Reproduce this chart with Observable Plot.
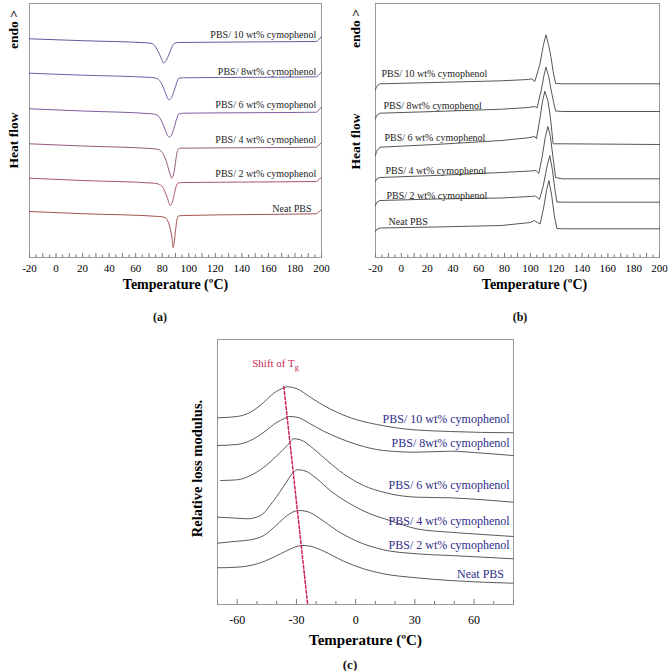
<!DOCTYPE html>
<html><head><meta charset="utf-8">
<script src="https://cdn.jsdelivr.net/npm/d3@7"></script>
<script src="https://cdn.jsdelivr.net/npm/@observablehq/plot@0.6"></script>
<style>
body{margin:0;background:#fff}
#wrap{position:relative;width:669px;height:671px;background:#fff;font-family:"Liberation Serif",serif;overflow:hidden}
.panel{position:absolute}
.cap{position:absolute;font-weight:bold;transform:translate(-50%,-50%);white-space:nowrap;color:#111}
</style></head><body><div id="wrap">
<div id="pa" class="panel" style="left:0;top:0"></div>
<div id="pb" class="panel" style="left:335px;top:0"></div>
<div id="pc" class="panel" style="left:150px;top:330px"></div>
<div class="cap" style="left:160px;top:317px;font-size:12px">(a)</div>
<div class="cap" style="left:520px;top:317px;font-size:12px">(b)</div>
<div class="cap" style="left:350px;top:665px;font-size:13px">(c)</div>
</div>
<script>
// ---------- shared ----------
const names = ["PBS/ 10 wt% cymophenol","PBS/ 8wt% cymophenol","PBS/ 6 wt% cymophenol","PBS/ 4 wt% cymophenol","PBS/ 2 wt% cymophenol","Neat PBS"];

// ---------- (a) DSC heating, [T °C, heat flow a.u.] ----------
const a10 = [[-20,218.7],[20,216.8],[70,214.5],[73,213.5],[75,210.5],[77,206],[79,200],[81,194.7],[83,197],[85,203],[87,209.5],[89,214],[92,215],[120,215.3],[160,215.7],[196,216],[198,218],[200,221]];
const a8 = [[-20,184.3],[20,182.3],[72,180],[76,179],[78,177],[80,172.5],[82,166],[84,159.5],[85,157.7],[87,160],[89,167],[91,175],[92.5,179.3],[96,179.7],[150,180.2],[196,180.7],[198,182.5],[200,185.3]];
const a6 = [[-20,148.7],[20,146.5],[72,143.7],[76,142.5],[78,140],[80,135],[82,128.5],[84,122],[85.5,120.3],[87,122.5],[89,130],[91,139],[92.5,143.5],[96,144.3],[150,144.8],[196,145.3],[198,147.5],[200,150.3]];
const a4 = [[-20,113.7],[20,111.5],[74,108.7],[78,107.5],[80,105],[82,100],[84,92],[86,83],[87,79.3],[88,81],[89.5,90],[90.5,100],[91.5,107],[93,109.3],[150,109.8],[196,110.3],[198,112.5],[200,115]];
const a2 = [[-20,79.3],[20,77],[74,74.3],[78,73],[80,71],[82,66],[84,59],[86,52],[87.5,55],[89,63],[90.5,71],[92,74.5],[96,75],[150,75.5],[196,76],[198,78],[200,80.3]];
const aNeat = [[-20,46],[20,43.8],[78,41],[82,40],[84,37],[86,29],[87.5,18],[88.2,10],[89,15],[90,27],[91,37],[92,41.5],[96,42],[150,43],[196,43.7],[198,45.5],[200,48]];
const labelXA = [196,196,196,196,196,192.5];
const labelYA = [223,186,153,118,84,49];
const colorsA = ["#5d5d9c","#6a5fa3","#7d5c9c","#94587e","#a8556b","#a0524f"];
const tickLabelsAB = [-20,0,20,40,60,80,100,120,140,160,180,200];
const minorTicksAB = d3.range(-20, 201, 5);

// ---------- (b) DSC cooling ----------
const b10 = [[-20,167.7],[-19.2,171],[-16.6,173.7],[26,175],[77.6,176.7],[98.3,178],[101,178.7],[103.4,176],[107.3,193],[110,212],[112,222.7],[114,213],[116,200],[117.6,186],[119.5,174],[125,173.7],[200,173.7]];
const b8 = [[-20,138.7],[-19.2,142],[-16.6,144.3],[26,146],[77.6,148.3],[98.3,150],[103.4,151],[105.2,149.7],[108.5,168],[110.5,182],[112,190.3],[114,182],[116,168],[118,155],[119.5,146.5],[125,146],[200,146]];
const b6 = [[-20,102],[-19.2,106.3],[-16.6,110.3],[26,113],[77.6,117],[98.3,119.7],[103.4,121],[104.7,118.7],[107.5,140],[109.5,157],[111.2,166.3],[113.5,157],[115.5,140],[117.6,113.7],[125,113.7],[200,113]];
const b4 = [[-20,76],[-19.2,78.5],[-16.6,80],[26,82],[77.6,85],[100,86.5],[104.5,87],[106.5,84],[109,100],[111.5,120],[113.5,131],[115.5,121],[117.5,100],[119.5,80],[125,78.7],[200,78.7]];
const b2 = [[-20,52],[-19.2,55],[-16.6,57],[26,58.5],[77.6,59.5],[100,61],[104,61.5],[107,58],[110,72],[113,92],[115,102],[117,88],[119,68],[120.5,55.5],[125,55.3],[200,55.3]];
const bNeat = [[-20,26],[-19.2,28],[-16.6,29.5],[26,30.5],[77.6,32],[100,35],[103,37],[105.5,35],[107.5,33.5],[110,48],[112.5,67],[114.3,77],[116.5,62],[118.5,42],[120.5,29],[125,28.7],[200,28.7]];
const labelXB = [-15.4,-13.8,-13,-12.3,-11.5,-9.9];
const labelYB = [183.7,152,119.3,87,62,36];

// ---------- (c) DMA loss modulus ----------
const c10 = [[-70,186.7],[-60,188],[-53.3,192.3],[-46.5,202.3],[-41.5,211.3],[-36.4,216.7],[-34.7,217.7],[-29.7,215.7],[-23,207.3],[-16.2,199],[-9.5,192.3],[0.6,184.7],[10.7,180],[24.2,175.7],[47.7,173],[79.7,171.7]];
const c8 = [[-70,159],[-60,160],[-53.3,164],[-46.5,172.3],[-39.8,182.3],[-36.4,185.7],[-33.9,188],[-29.7,187.3],[-23,180.7],[-16.2,173.3],[-9.5,167.3],[0.6,160],[14.1,154],[30.9,152.3],[47.7,153.3],[64.6,151.3],[79.7,149]];
const c6 = [[-68.4,124],[-60,124.7],[-53.3,129],[-46.5,137.3],[-39.8,149],[-34.7,159],[-31.4,165.7],[-28,164.7],[-21.3,155.7],[-14.5,144],[-6.1,130.7],[4,119],[14.1,112.3],[30.9,107.3],[47.7,106.7],[64.6,104.7],[79.7,102.3]];
const c4 = [[-70,87.3],[-63.4,86.7],[-54.9,85.7],[-48.2,89],[-41.5,104],[-35.6,120.7],[-32.2,130.7],[-29.7,134.7],[-26.3,134],[-19.6,125.7],[-12.9,114],[-2.8,100.7],[7.3,90.7],[17.4,84],[30.9,75.7],[47.7,72.3],[64.6,70],[79.7,68]];
const c2 = [[-70,61.3],[-60,63.3],[-53.3,64.7],[-46.5,69],[-39.8,80],[-34.7,89],[-28.9,94],[-24.6,93],[-17.9,85.7],[-9.5,74],[0.6,63.3],[14.1,54.7],[30.9,50.7],[47.7,49],[64.6,47.3],[79.7,45.7]];
const cNeat = [[-70,36.7],[-60,37.3],[-49.9,40.7],[-41.5,47.3],[-34.7,54],[-27.2,59],[-23,58.3],[-16.2,53.3],[-6.1,43.3],[4,35.7],[14.1,30.7],[30.9,26.7],[47.7,24],[64.6,22.3],[79.7,21.3]];
const tgShift = [[-36.4,218],[-24.3,0]];
const tgLabel = {t: -52.4, v: 241, text: "Shift of T"};
const labelXC = [78,78,78,78,78,75.2];
const labelYC = [185.7,161.3,119.7,83.3,59.7,30.7];
const tickLabelsC = [-60,-30,0,30,60];
const minorTicksC = d3.range(-70, 81, 10);

// ---------- helpers ----------
function rows(series){ return series.flatMap((pts,i)=>pts.map(([t,v])=>({t, v, name: names[i]}))); }
function labels(xs, ys){ return names.map((n,i)=>({name:n, t: xs[i], v: ys[i]})); }
const serif = "Liberation Serif, Times New Roman, serif";
const baseStyle = {fontFamily: serif, background: "none", overflow: "visible"};
function yTitle(txt, v, dx, size){
  return Plot.text([txt], {text: d => d, frameAnchor: "left", y: v, dx, rotate: -90, textAnchor: "middle", lineAnchor: "middle", fontWeight: "bold", fontSize: size});
}

// ---------- (a) ----------
const plotA = Plot.plot({
  width: 330, height: 300, marginLeft: 29, marginRight: 9, marginTop: 3, marginBottom: 43,
  x: {domain: [-20, 200], axis: null},
  y: {domain: [0, 254], axis: null},
  color: {domain: names, range: colorsA},
  style: baseStyle,
  marks: [
    Plot.frame({stroke: "#9a9a9a"}),
    Plot.ruleX(minorTicksAB, {x: d => d, y1: 0, y2: d => d % 10 === 0 ? 4 : 2.5, stroke: "#777"}),
    Plot.axisX({ticks: tickLabelsAB, tickSize: 0, tickPadding: 7, fontSize: 11, tickFormat: d => String(d), label: null}),
    Plot.line(rows([a10,a8,a6,a4,a2,aNeat]), {x: "t", y: "v", z: "name", stroke: "name", strokeWidth: 1, curve: "monotone-x"}),
    Plot.text(labels(labelXA, labelYA), {x: "t", y: "v", text: "name", textAnchor: "end", fontSize: 10, fill: "#222"}),
    Plot.text(["Temperature (ºC)"], {text: d => d, frameAnchor: "bottom", dy: 27, fontWeight: "bold", fontSize: 14, lineAnchor: "middle"}),
    yTitle("endo >", 228, -16, 13.5),
    yTitle("Heat flow", 117, -16, 13.5)
  ]
});
document.getElementById("pa").appendChild(plotA);

// ---------- (b) ----------
const plotB = Plot.plot({
  width: 334, height: 300, marginLeft: 40, marginRight: 10, marginTop: 3, marginBottom: 43,
  x: {domain: [-20, 200], axis: null},
  y: {domain: [0, 254], axis: null},
  style: baseStyle,
  marks: [
    Plot.frame({stroke: "#9a9a9a"}),
    Plot.ruleX(minorTicksAB, {x: d => d, y1: 0, y2: d => d % 10 === 0 ? 4 : 2.5, stroke: "#777"}),
    Plot.axisX({ticks: tickLabelsAB, tickSize: 0, tickPadding: 7, fontSize: 11, tickFormat: d => String(d), label: null}),
    Plot.line(rows([b10,b8,b6,b4,b2,bNeat]), {x: "t", y: "v", z: "name", stroke: "#555", strokeWidth: 1, curve: "linear"}),
    Plot.text(labels(labelXB, labelYB), {x: "t", y: "v", text: "name", textAnchor: "start", fontSize: 10, fill: "#222"}),
    Plot.text(["Temperature (ºC)"], {text: d => d, frameAnchor: "bottom", dy: 27, dx: 17, fontWeight: "bold", fontSize: 14, lineAnchor: "middle"}),
    yTitle("endo >", 229, -20, 13.5),
    yTitle("Heat flow", 116, -20, 13.5)
  ]
});
document.getElementById("pb").appendChild(plotB);

// ---------- (c) ----------
const plotC = Plot.plot({
  width: 380, height: 330, marginLeft: 67, marginRight: 17, marginTop: 9, marginBottom: 56,
  x: {domain: [-70, 80], axis: null},
  y: {domain: [0, 265], axis: null},
  style: baseStyle,
  marks: [
    Plot.frame({stroke: "#9a9a9a"}),
    Plot.ruleX(minorTicksC, {x: d => d, y1: 0, y2: d => d % 30 === 0 ? 5 : 3, stroke: "#777"}),
    Plot.axisX({ticks: tickLabelsC, tickSize: 0, tickPadding: 11, fontSize: 12, tickFormat: d => String(d), label: null}),
    Plot.line(rows([c10,c8,c6,c4,c2,cNeat]), {x: "t", y: "v", z: "name", stroke: "#5a5a5a", strokeWidth: 1, curve: "monotone-x"}),
    Plot.line(tgShift, {x: d => d[0], y: d => d[1], stroke: "#cc2060", strokeWidth: 1.5, strokeDasharray: "3,2"}),
    Plot.text([tgLabel], {x: "t", y: "v", text: "text", textAnchor: "start", fontSize: 11, fill: "#c8285a"}),
    Plot.text(labels(labelXC, labelYC), {x: "t", y: "v", text: "name", textAnchor: "end", fontSize: 12, fill: "#2e2e8c"}),
    Plot.text(["Temperature (ºC)"], {text: d => d, frameAnchor: "bottom", dy: 36, fontWeight: "bold", fontSize: 15, lineAnchor: "middle"}),
    yTitle("Relative loss modulus.", 136, -20, 14.5)
  ]
});
plotC.querySelectorAll("text").forEach(t => {
  if (t.textContent === "Shift of T") {
    const s = document.createElementNS("http://www.w3.org/2000/svg", "tspan");
    s.setAttribute("font-size", "8");
    s.setAttribute("dy", "3");
    s.textContent = "g";
    t.appendChild(s);
  }
});
document.getElementById("pc").appendChild(plotC);
</script>
</body></html>
